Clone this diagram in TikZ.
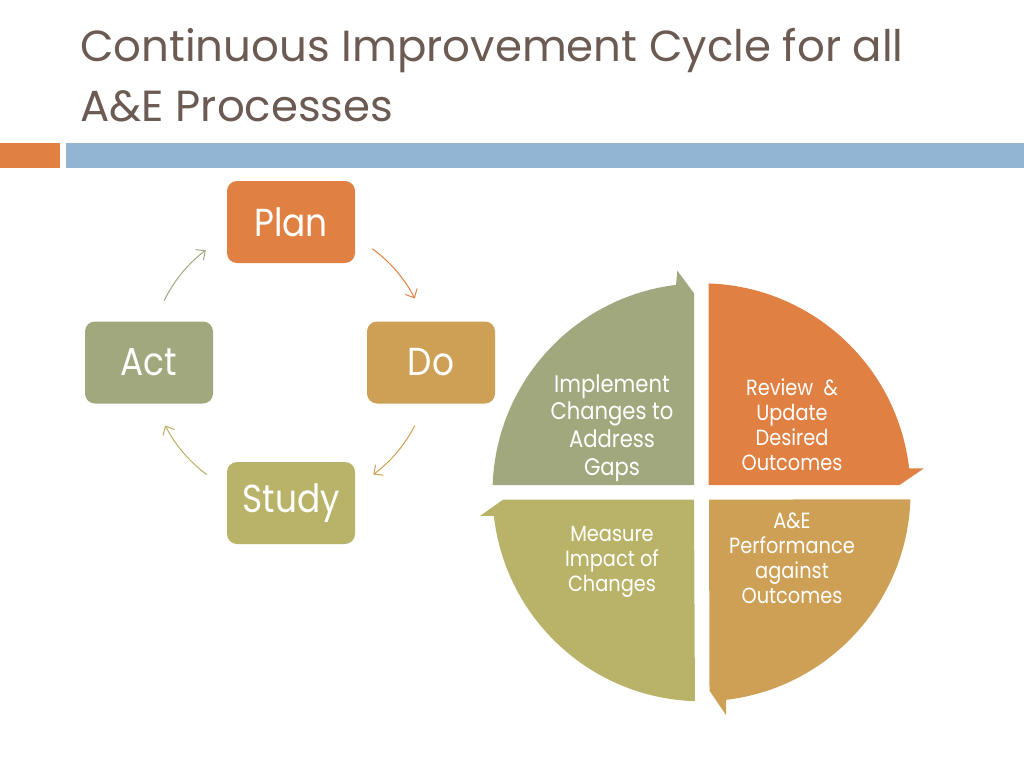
\documentclass[tikz,border=0pt]{standalone}
\usepackage{fontspec}
\setmainfont{Poppins}
\newfontfamily\narrowfont{Poppins}[FakeStretch=0.88]
\usetikzlibrary{arrows.meta,calc}
\definecolor{orangeC}{RGB}{224,128,66}
\definecolor{tanC}{RGB}{206,160,86}
\definecolor{oliveC}{RGB}{185,179,106}
\definecolor{sageC}{RGB}{162,168,126}
\definecolor{titleC}{RGB}{108,91,82}
\definecolor{blueC}{RGB}{146,181,211}
\tikzset{
  stepbox/.style={rounded corners=10pt, minimum width=128pt, minimum height=82pt, inner sep=0pt,
    text=white, font=\narrowfont\fontsize{39}{40}\selectfont},
  cyc/.style={line width=1pt, -{Straight Barb[length=7pt,width=13pt]}},
  pietext/.style={text=white, align=center, inner sep=0pt, font=\narrowfont\fontsize{22}{25}\selectfont},
  titletext/.style={text=titleC, anchor=base west, inner sep=0pt, font=\fontsize{43.5}{47}\selectfont}
}
\begin{document}
\begin{tikzpicture}[x=1pt,y=-1pt]
\useasboundingbox (0,0) rectangle (1024,768);
\fill[white] (0,0) rectangle (1024,768);
% title
\node[titletext] (t1) at (80,61) {Continuous Improvement Cycle for all};
\node[titletext] (t2) at (80,121) {A\&E Processes};
% bars
\fill[orangeC] (0,143) rectangle (60,168);
\fill[blueC] (66,143) rectangle (1024,168);
% cycle boxes
\node[stepbox, fill=orangeC] (plan) at (291,222) {Plan};
\node[stepbox, fill=tanC] (do) at (431,362.5) {Do};
\node[stepbox, fill=oliveC] (study) at (291,503) {Study};
\node[stepbox, fill=sageC] (act) at (149,362.5) {Act};
% cycle arrows
\coordinate (O) at (290,362);
\coordinate (pd) at ($(O)+(-54:140)$);
\coordinate (ds) at ($(O)+(27:140)$);
\coordinate (sa) at ($(O)+(126.5:140)$);
\coordinate (ap) at ($(O)+(206:140)$);
\draw[cyc, draw=orangeC] (pd) arc[start angle=-54, end angle=-27, radius=140];
\draw[cyc, draw=tanC] (ds) arc[start angle=27, end angle=53.5, radius=140];
\draw[cyc, draw=oliveC!85!tanC] (sa) arc[start angle=126.5, end angle=153, radius=140];
\draw[cyc, draw=sageC] (ap) arc[start angle=206, end angle=233, radius=140];
% segmented cycle
\coordinate (C) at (701.5,492.3);
\fill[orangeC] (708.5,485) -- ($(C)+(-88.08:209)$) arc[start angle=-88.08,end angle=-6.59,radius=209]
  -- (924,468.3) -- (899.5,485) -- cycle;
\fill[sageC] (694,485) -- ($(C)+(182:209)$) arc[start angle=182,end angle=263,radius=209]
  -- (677.3,270.7) -- (694,293.3) -- cycle;
\fill[oliveC] (694,499.5) -- ($(C)+(91.8:209)$) arc[start angle=91.8,end angle=173.5,radius=209]
  -- (480,516) -- (503.3,499.5) -- cycle;
\fill[tanC] (709,499.5) -- ($(C)+(1.97:209)$) arc[start angle=1.97,end angle=83.27,radius=209]
  -- (726,715) -- (709.5,690.7) -- cycle;
\node[pietext, font=\narrowfont\fontsize{24}{27.7}\selectfont] (impl) at (612,428) {Implement\\Changes to\\Address\\Gaps};
\node[pietext] (rev) at (792,425) {Review\ \ \&\\Update\\Desired\\Outcomes};
\node[pietext] (meas) at (612,562) {Measure\\Impact of\\Changes};
\node[pietext] (perf) at (792,558) {A\&E\\Performance\\against\\Outcomes};
\end{tikzpicture}
\end{document}
